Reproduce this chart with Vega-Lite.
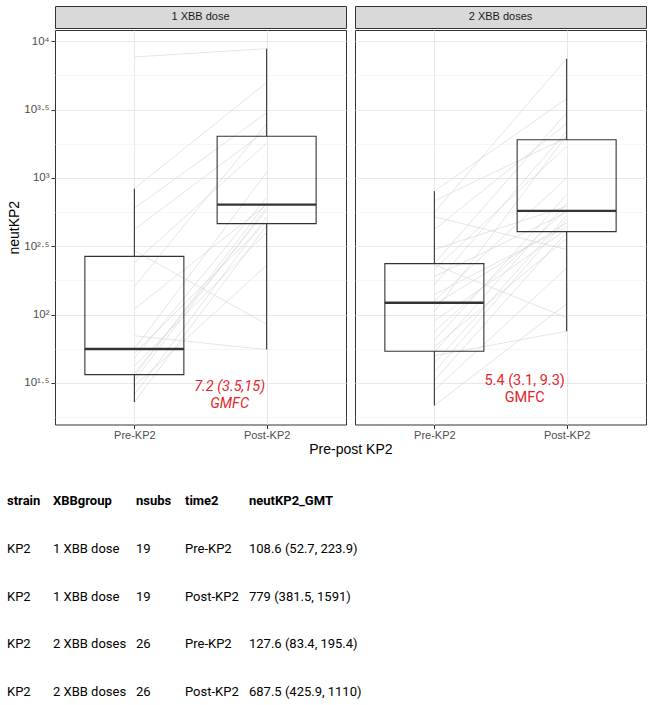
{
  "$schema": "https://vega.github.io/schema/vega-lite/v6.json",
  "padding": {"left": 7, "top": 5, "right": 5, "bottom": 0},
  "background": "white",
  "config": {
    "font": "Liberation Sans",
    "view": {"stroke": "#333333", "strokeWidth": 1}
  },
  "datasets": {
    "subjects": [
      {"id": "A01", "group": "1 XBB dose", "time": "Pre-KP2", "neutKP2": 7680}, {"id": "A01", "group": "1 XBB dose", "time": "Post-KP2", "neutKP2": 8830},
      {"id": "A02", "group": "1 XBB dose", "time": "Pre-KP2", "neutKP2": 835}, {"id": "A02", "group": "1 XBB dose", "time": "Post-KP2", "neutKP2": 5000},
      {"id": "A03", "group": "1 XBB dose", "time": "Pre-KP2", "neutKP2": 600}, {"id": "A03", "group": "1 XBB dose", "time": "Post-KP2", "neutKP2": 3000},
      {"id": "A04", "group": "1 XBB dose", "time": "Pre-KP2", "neutKP2": 294}, {"id": "A04", "group": "1 XBB dose", "time": "Post-KP2", "neutKP2": 85},
      {"id": "A05", "group": "1 XBB dose", "time": "Pre-KP2", "neutKP2": 70}, {"id": "A05", "group": "1 XBB dose", "time": "Post-KP2", "neutKP2": 55.5},
      {"id": "A06", "group": "1 XBB dose", "time": "Pre-KP2", "neutKP2": 420}, {"id": "A06", "group": "1 XBB dose", "time": "Post-KP2", "neutKP2": 2236},
      {"id": "A07", "group": "1 XBB dose", "time": "Pre-KP2", "neutKP2": 240}, {"id": "A07", "group": "1 XBB dose", "time": "Post-KP2", "neutKP2": 1800},
      {"id": "A08", "group": "1 XBB dose", "time": "Pre-KP2", "neutKP2": 160}, {"id": "A08", "group": "1 XBB dose", "time": "Post-KP2", "neutKP2": 2500},
      {"id": "A09", "group": "1 XBB dose", "time": "Pre-KP2", "neutKP2": 110}, {"id": "A09", "group": "1 XBB dose", "time": "Post-KP2", "neutKP2": 638},
      {"id": "A10", "group": "1 XBB dose", "time": "Pre-KP2", "neutKP2": 56}, {"id": "A10", "group": "1 XBB dose", "time": "Post-KP2", "neutKP2": 1100},
      {"id": "A11", "group": "1 XBB dose", "time": "Pre-KP2", "neutKP2": 52}, {"id": "A11", "group": "1 XBB dose", "time": "Post-KP2", "neutKP2": 476},
      {"id": "A12", "group": "1 XBB dose", "time": "Pre-KP2", "neutKP2": 48}, {"id": "A12", "group": "1 XBB dose", "time": "Post-KP2", "neutKP2": 720},
      {"id": "A13", "group": "1 XBB dose", "time": "Pre-KP2", "neutKP2": 42}, {"id": "A13", "group": "1 XBB dose", "time": "Post-KP2", "neutKP2": 400},
      {"id": "A14", "group": "1 XBB dose", "time": "Pre-KP2", "neutKP2": 37.3}, {"id": "A14", "group": "1 XBB dose", "time": "Post-KP2", "neutKP2": 580},
      {"id": "A15", "group": "1 XBB dose", "time": "Pre-KP2", "neutKP2": 35.5}, {"id": "A15", "group": "1 XBB dose", "time": "Post-KP2", "neutKP2": 660},
      {"id": "A16", "group": "1 XBB dose", "time": "Pre-KP2", "neutKP2": 33}, {"id": "A16", "group": "1 XBB dose", "time": "Post-KP2", "neutKP2": 610},
      {"id": "A17", "group": "1 XBB dose", "time": "Pre-KP2", "neutKP2": 30}, {"id": "A17", "group": "1 XBB dose", "time": "Post-KP2", "neutKP2": 230},
      {"id": "A18", "group": "1 XBB dose", "time": "Pre-KP2", "neutKP2": 26}, {"id": "A18", "group": "1 XBB dose", "time": "Post-KP2", "neutKP2": 520},
      {"id": "A19", "group": "1 XBB dose", "time": "Pre-KP2", "neutKP2": 22.9}, {"id": "A19", "group": "1 XBB dose", "time": "Post-KP2", "neutKP2": 450},
      {"id": "B01", "group": "2 XBB doses", "time": "Pre-KP2", "neutKP2": 800}, {"id": "B01", "group": "2 XBB doses", "time": "Post-KP2", "neutKP2": 3800},
      {"id": "B02", "group": "2 XBB doses", "time": "Pre-KP2", "neutKP2": 680}, {"id": "B02", "group": "2 XBB doses", "time": "Post-KP2", "neutKP2": 1973},
      {"id": "B03", "group": "2 XBB doses", "time": "Pre-KP2", "neutKP2": 560}, {"id": "B03", "group": "2 XBB doses", "time": "Post-KP2", "neutKP2": 7460},
      {"id": "B04", "group": "2 XBB doses", "time": "Pre-KP2", "neutKP2": 520}, {"id": "B04", "group": "2 XBB doses", "time": "Post-KP2", "neutKP2": 300},
      {"id": "B05", "group": "2 XBB doses", "time": "Pre-KP2", "neutKP2": 420}, {"id": "B05", "group": "2 XBB doses", "time": "Post-KP2", "neutKP2": 2500},
      {"id": "B06", "group": "2 XBB doses", "time": "Pre-KP2", "neutKP2": 300}, {"id": "B06", "group": "2 XBB doses", "time": "Post-KP2", "neutKP2": 620},
      {"id": "B07", "group": "2 XBB doses", "time": "Pre-KP2", "neutKP2": 237}, {"id": "B07", "group": "2 XBB doses", "time": "Post-KP2", "neutKP2": 3000},
      {"id": "B08", "group": "2 XBB doses", "time": "Pre-KP2", "neutKP2": 232}, {"id": "B08", "group": "2 XBB doses", "time": "Post-KP2", "neutKP2": 95},
      {"id": "B09", "group": "2 XBB doses", "time": "Pre-KP2", "neutKP2": 215}, {"id": "B09", "group": "2 XBB doses", "time": "Post-KP2", "neutKP2": 1700},
      {"id": "B10", "group": "2 XBB doses", "time": "Pre-KP2", "neutKP2": 190}, {"id": "B10", "group": "2 XBB doses", "time": "Post-KP2", "neutKP2": 560},
      {"id": "B11", "group": "2 XBB doses", "time": "Pre-KP2", "neutKP2": 165}, {"id": "B11", "group": "2 XBB doses", "time": "Post-KP2", "neutKP2": 2200},
      {"id": "B12", "group": "2 XBB doses", "time": "Pre-KP2", "neutKP2": 140}, {"id": "B12", "group": "2 XBB doses", "time": "Post-KP2", "neutKP2": 440},
      {"id": "B13", "group": "2 XBB doses", "time": "Pre-KP2", "neutKP2": 126}, {"id": "B13", "group": "2 XBB doses", "time": "Post-KP2", "neutKP2": 1000},
      {"id": "B14", "group": "2 XBB doses", "time": "Pre-KP2", "neutKP2": 118}, {"id": "B14", "group": "2 XBB doses", "time": "Post-KP2", "neutKP2": 470},
      {"id": "B15", "group": "2 XBB doses", "time": "Pre-KP2", "neutKP2": 105}, {"id": "B15", "group": "2 XBB doses", "time": "Post-KP2", "neutKP2": 2050},
      {"id": "B16", "group": "2 XBB doses", "time": "Pre-KP2", "neutKP2": 90}, {"id": "B16", "group": "2 XBB doses", "time": "Post-KP2", "neutKP2": 420},
      {"id": "B17", "group": "2 XBB doses", "time": "Pre-KP2", "neutKP2": 75}, {"id": "B17", "group": "2 XBB doses", "time": "Post-KP2", "neutKP2": 588},
      {"id": "B18", "group": "2 XBB doses", "time": "Pre-KP2", "neutKP2": 65}, {"id": "B18", "group": "2 XBB doses", "time": "Post-KP2", "neutKP2": 750},
      {"id": "B19", "group": "2 XBB doses", "time": "Pre-KP2", "neutKP2": 58}, {"id": "B19", "group": "2 XBB doses", "time": "Post-KP2", "neutKP2": 360},
      {"id": "B20", "group": "2 XBB doses", "time": "Pre-KP2", "neutKP2": 53}, {"id": "B20", "group": "2 XBB doses", "time": "Post-KP2", "neutKP2": 650},
      {"id": "B21", "group": "2 XBB doses", "time": "Pre-KP2", "neutKP2": 50}, {"id": "B21", "group": "2 XBB doses", "time": "Post-KP2", "neutKP2": 75.6},
      {"id": "B22", "group": "2 XBB doses", "time": "Pre-KP2", "neutKP2": 44}, {"id": "B22", "group": "2 XBB doses", "time": "Post-KP2", "neutKP2": 530},
      {"id": "B23", "group": "2 XBB doses", "time": "Pre-KP2", "neutKP2": 38}, {"id": "B23", "group": "2 XBB doses", "time": "Post-KP2", "neutKP2": 500},
      {"id": "B24", "group": "2 XBB doses", "time": "Pre-KP2", "neutKP2": 33}, {"id": "B24", "group": "2 XBB doses", "time": "Post-KP2", "neutKP2": 400},
      {"id": "B25", "group": "2 XBB doses", "time": "Pre-KP2", "neutKP2": 28}, {"id": "B25", "group": "2 XBB doses", "time": "Post-KP2", "neutKP2": 220},
      {"id": "B26", "group": "2 XBB doses", "time": "Pre-KP2", "neutKP2": 21.6}, {"id": "B26", "group": "2 XBB doses", "time": "Post-KP2", "neutKP2": 120}
    ],
    "boxes": [
      {"group": "1 XBB dose", "time": "Pre-KP2", "lower": 22.9, "q1": 36.4, "median": 56, "q3": 267, "upper": 835},
      {"group": "1 XBB dose", "time": "Post-KP2", "lower": 55.5, "q1": 463, "median": 638, "q3": 2018, "upper": 8830},
      {"group": "2 XBB doses", "time": "Pre-KP2", "lower": 21.6, "q1": 54, "median": 122, "q3": 236, "upper": 800},
      {"group": "2 XBB doses", "time": "Post-KP2", "lower": 75.6, "q1": 405, "median": 574, "q3": 1905, "upper": 7460}
    ],
    "annot": [
      {"group": "1 XBB dose", "time": "Post-KP2", "neutKP2": 29.6, "label": "7.2 (3.5,15)\nGMFC"},
      {"group": "2 XBB doses", "time": "Post-KP2", "neutKP2": 32.7, "label": "5.4 (3.1, 9.3)\nGMFC"}
    ],
    "strips": [
      {"group": "1 XBB dose"},
      {"group": "2 XBB doses"}
    ],
    "table": [
      {"strain": "KP2", "XBBgroup": "1 XBB dose", "nsubs": 19, "time2": "Pre-KP2", "neutKP2_GMT": "108.6 (52.7, 223.9)"},
      {"strain": "KP2", "XBBgroup": "1 XBB dose", "nsubs": 19, "time2": "Post-KP2", "neutKP2_GMT": "779 (381.5, 1591)"},
      {"strain": "KP2", "XBBgroup": "2 XBB doses", "nsubs": 26, "time2": "Pre-KP2", "neutKP2_GMT": "127.6 (83.4, 195.4)"},
      {"strain": "KP2", "XBBgroup": "2 XBB doses", "nsubs": 26, "time2": "Post-KP2", "neutKP2_GMT": "687.5 (425.9, 1110)"}
    ]
  },
  "spacing": 38,
  "vconcat": [
    {
      "spacing": 7,
      "title": {"text": "Pre-post KP2", "orient": "bottom", "anchor": "middle", "dx": 24, "offset": 2, "fontSize": 14, "fontWeight": "normal", "color": "#000000", "font": "Liberation Sans"},
      "hconcat": [
        {
          "spacing": 0,
          "vconcat": [
            {
              "width": 291, "height": 22,
              "view": {"fill": "#d9d9d9", "stroke": "#333333"},
              "data": {"name": "strips"},
              "transform": [{"filter": "datum.group === '1 XBB dose'"}],
              "mark": {"type": "text", "fontSize": 11, "color": "#1a1a1a", "baseline": "middle"},
              "encoding": {"text": {"field": "group"}}
            },
            {
              "width": 291, "height": 394.5,
              "resolve": {"axis": {"y": "independent"}},
              "layer": [
                {
                  "data": {"name": "subjects"},
                  "transform": [{"filter": "datum.group === '1 XBB dose'"}],
                  "mark": {"type": "line", "color": "#d4d4d4", "strokeWidth": 0.6},
                  "encoding": {
                    "x": {"field": "time", "type": "nominal", "scale": {"type": "point", "domain": ["Pre-KP2", "Post-KP2"], "padding": 0.6},
                      "axis": {"title": null, "domain": false, "grid": true, "gridColor": "#e8e8e8", "gridWidth": 1, "tickColor": "#333333", "tickSize": 4, "labelColor": "#4d4d4d", "labelFontSize": 11, "labelPadding": 1, "labelAngle": 0}},
                    "y": {"field": "neutKP2", "type": "quantitative", "scale": {"type": "log", "domain": [15.7, 12100], "nice": false},
                      "axis": {"orient": "left", "values": [17.7828, 56.2341, 177.828, 562.341, 1778.28, 5623.41], "labels": false, "ticks": false, "domain": false, "grid": true, "gridColor": "#f2f2f2", "gridWidth": 0.7, "title": null}},
                    "detail": {"field": "id"}
                  }
                },
                {
                  "data": {"name": "boxes"},
                  "transform": [{"filter": "datum.group === '1 XBB dose'"}],
                  "mark": {"type": "rule", "color": "#333333", "strokeWidth": 1.1},
                  "encoding": {
                    "x": {"field": "time", "type": "nominal"},
                    "y": {"field": "lower", "type": "quantitative",
                      "axis": {"orient": "left", "values": [31.6228, 100, 316.228, 1000, 3162.28, 10000],
                        "labelExpr": "datum.value < 50 ? '10¹·⁵' : datum.value < 200 ? '10²' : datum.value < 500 ? '10²·⁵' : datum.value < 2000 ? '10³' : datum.value < 5000 ? '10³·⁵' : '10⁴'",
                        "title": "neutKP2", "titleFontSize": 14, "titleFontWeight": "normal", "titleColor": "#000000", "titlePadding": 2,
                        "labelFont": "Liberation Sans", "labelFontSize": 11.5, "labelColor": "#4d4d4d", "labelPadding": 2, "tickColor": "#333333", "tickSize": 4,
                        "domain": false, "grid": true, "gridColor": "#e8e8e8", "gridWidth": 1}},
                    "y2": {"field": "q1"}
                  }
                },
                {
                  "data": {"name": "boxes"},
                  "transform": [{"filter": "datum.group === '1 XBB dose'"}],
                  "mark": {"type": "rule", "color": "#333333", "strokeWidth": 1.1},
                  "encoding": {
                    "x": {"field": "time", "type": "nominal"},
                    "y": {"field": "q3", "type": "quantitative", "axis": null},
                    "y2": {"field": "upper"}
                  }
                },
                {
                  "data": {"name": "boxes"},
                  "transform": [{"filter": "datum.group === '1 XBB dose'"}],
                  "mark": {"type": "bar", "size": 99, "fill": "transparent", "stroke": "#333333", "strokeWidth": 1.1},
                  "encoding": {
                    "x": {"field": "time", "type": "nominal"},
                    "y": {"field": "q1", "type": "quantitative", "axis": null},
                    "y2": {"field": "q3"}
                  }
                },
                {
                  "data": {"name": "boxes"},
                  "transform": [{"filter": "datum.group === '1 XBB dose'"}],
                  "mark": {"type": "tick", "orient": "horizontal", "size": 99, "thickness": 2.4, "color": "#333333", "opacity": 1},
                  "encoding": {
                    "x": {"field": "time", "type": "nominal"},
                    "y": {"field": "median", "type": "quantitative", "axis": null}
                  }
                },
                {
                  "data": {"name": "annot"},
                  "transform": [{"filter": "datum.group === '1 XBB dose'"}],
                  "mark": {"type": "text", "font": "Roboto", "fontSize": 14.5, "fontStyle": "italic", "color": "#e3262c", "dx": -37, "baseline": "middle", "lineBreak": "\n", "lineHeight": 17.5},
                  "encoding": {
                    "x": {"field": "time", "type": "nominal"},
                    "y": {"field": "neutKP2", "type": "quantitative", "axis": null},
                    "text": {"field": "label"}
                  }
                }
              ]
            }
          ]
        },
        {
          "spacing": 0,
          "vconcat": [
            {
              "width": 291, "height": 22,
              "view": {"fill": "#d9d9d9", "stroke": "#333333"},
              "data": {"name": "strips"},
              "transform": [{"filter": "datum.group === '2 XBB doses'"}],
              "mark": {"type": "text", "fontSize": 11, "color": "#1a1a1a", "baseline": "middle"},
              "encoding": {"text": {"field": "group"}}
            },
            {
              "width": 291, "height": 394.5,
              "resolve": {"axis": {"y": "independent"}},
              "layer": [
                {
                  "data": {"name": "subjects"},
                  "transform": [{"filter": "datum.group === '2 XBB doses'"}],
                  "mark": {"type": "line", "color": "#d4d4d4", "strokeWidth": 0.6},
                  "encoding": {
                    "x": {"field": "time", "type": "nominal", "scale": {"type": "point", "domain": ["Pre-KP2", "Post-KP2"], "padding": 0.6},
                      "axis": {"title": null, "domain": false, "grid": true, "gridColor": "#e8e8e8", "gridWidth": 1, "tickColor": "#333333", "tickSize": 4, "labelColor": "#4d4d4d", "labelFontSize": 11, "labelPadding": 1, "labelAngle": 0}},
                    "y": {"field": "neutKP2", "type": "quantitative", "scale": {"type": "log", "domain": [15.7, 12100], "nice": false},
                      "axis": {"orient": "left", "values": [17.7828, 56.2341, 177.828, 562.341, 1778.28, 5623.41], "labels": false, "ticks": false, "domain": false, "grid": true, "gridColor": "#f2f2f2", "gridWidth": 0.7, "title": null}},
                    "detail": {"field": "id"}
                  }
                },
                {
                  "data": {"name": "boxes"},
                  "transform": [{"filter": "datum.group === '2 XBB doses'"}],
                  "mark": {"type": "rule", "color": "#333333", "strokeWidth": 1.1},
                  "encoding": {
                    "x": {"field": "time", "type": "nominal"},
                    "y": {"field": "lower", "type": "quantitative",
                      "axis": {"orient": "left", "values": [31.6228, 100, 316.228, 1000, 3162.28, 10000], "labels": false, "ticks": false, "domain": false, "title": null, "grid": true, "gridColor": "#e8e8e8", "gridWidth": 1}},
                    "y2": {"field": "q1"}
                  }
                },
                {
                  "data": {"name": "boxes"},
                  "transform": [{"filter": "datum.group === '2 XBB doses'"}],
                  "mark": {"type": "rule", "color": "#333333", "strokeWidth": 1.1},
                  "encoding": {
                    "x": {"field": "time", "type": "nominal"},
                    "y": {"field": "q3", "type": "quantitative", "axis": null},
                    "y2": {"field": "upper"}
                  }
                },
                {
                  "data": {"name": "boxes"},
                  "transform": [{"filter": "datum.group === '2 XBB doses'"}],
                  "mark": {"type": "bar", "size": 99, "fill": "transparent", "stroke": "#333333", "strokeWidth": 1.1},
                  "encoding": {
                    "x": {"field": "time", "type": "nominal"},
                    "y": {"field": "q1", "type": "quantitative", "axis": null},
                    "y2": {"field": "q3"}
                  }
                },
                {
                  "data": {"name": "boxes"},
                  "transform": [{"filter": "datum.group === '2 XBB doses'"}],
                  "mark": {"type": "tick", "orient": "horizontal", "size": 99, "thickness": 2.4, "color": "#333333", "opacity": 1},
                  "encoding": {
                    "x": {"field": "time", "type": "nominal"},
                    "y": {"field": "median", "type": "quantitative", "axis": null}
                  }
                },
                {
                  "data": {"name": "annot"},
                  "transform": [{"filter": "datum.group === '2 XBB doses'"}],
                  "mark": {"type": "text", "font": "Roboto", "fontSize": 14.5, "color": "#e3262c", "dx": -42, "baseline": "middle", "lineBreak": "\n", "lineHeight": 17.5},
                  "encoding": {
                    "x": {"field": "time", "type": "nominal"},
                    "y": {"field": "neutKP2", "type": "quantitative", "axis": null},
                    "text": {"field": "label"}
                  }
                }
              ]
            }
          ]
        }
      ]
    },
    {
      "spacing": 0,
      "bounds": "flush",
      "hconcat": [
        {
          "width": 46, "height": 143, "view": {"stroke": null},
          "title": {"text": "strain", "anchor": "start", "frame": "bounds", "orient": "top", "offset": 35, "font": "Roboto", "fontSize": 13, "fontWeight": "bold", "color": "#000000"},
          "data": {"name": "table"},
          "transform": [{"fold": ["strain"], "as": ["key", "val"]}],
          "mark": {"type": "text", "align": "left", "baseline": "middle", "dx": -48, "font": "Roboto", "fontSize": 13, "color": "#000000"},
          "encoding": {
            "x": {"field": "key", "type": "nominal", "scale": {"type": "point", "padding": 0, "align": 0}, "axis": null},
            "y": {"field": "neutKP2_GMT", "type": "nominal", "sort": null, "scale": {"type": "point", "padding": 0}, "axis": null},
            "text": {"field": "val"}
          }
        },
        {
          "width": 82.3, "height": 143, "view": {"stroke": null},
          "title": {"text": "XBBgroup", "anchor": "start", "frame": "bounds", "orient": "top", "offset": 35, "font": "Roboto", "fontSize": 13, "fontWeight": "bold", "color": "#000000"},
          "data": {"name": "table"},
          "transform": [{"fold": ["XBBgroup"], "as": ["key", "val"]}],
          "mark": {"type": "text", "align": "left", "baseline": "middle", "dx": -48, "font": "Roboto", "fontSize": 13, "color": "#000000"},
          "encoding": {
            "x": {"field": "key", "type": "nominal", "scale": {"type": "point", "padding": 0, "align": 0}, "axis": null},
            "y": {"field": "neutKP2_GMT", "type": "nominal", "sort": null, "scale": {"type": "point", "padding": 0}, "axis": null},
            "text": {"field": "val"}
          }
        },
        {
          "width": 48.3, "height": 143, "view": {"stroke": null},
          "title": {"text": "nsubs", "anchor": "start", "frame": "bounds", "orient": "top", "offset": 35, "font": "Roboto", "fontSize": 13, "fontWeight": "bold", "color": "#000000"},
          "data": {"name": "table"},
          "transform": [{"fold": ["nsubs"], "as": ["key", "val"]}],
          "mark": {"type": "text", "align": "left", "baseline": "middle", "dx": -48, "font": "Roboto", "fontSize": 13, "color": "#000000"},
          "encoding": {
            "x": {"field": "key", "type": "nominal", "scale": {"type": "point", "padding": 0, "align": 0}, "axis": null},
            "y": {"field": "neutKP2_GMT", "type": "nominal", "sort": null, "scale": {"type": "point", "padding": 0}, "axis": null},
            "text": {"field": "val"}
          }
        },
        {
          "width": 63.4, "height": 143, "view": {"stroke": null},
          "title": {"text": "time2", "anchor": "start", "frame": "bounds", "orient": "top", "offset": 35, "font": "Roboto", "fontSize": 13, "fontWeight": "bold", "color": "#000000"},
          "data": {"name": "table"},
          "transform": [{"fold": ["time2"], "as": ["key", "val"]}],
          "mark": {"type": "text", "align": "left", "baseline": "middle", "dx": -48, "font": "Roboto", "fontSize": 13, "color": "#000000"},
          "encoding": {
            "x": {"field": "key", "type": "nominal", "scale": {"type": "point", "padding": 0, "align": 0}, "axis": null},
            "y": {"field": "neutKP2_GMT", "type": "nominal", "sort": null, "scale": {"type": "point", "padding": 0}, "axis": null},
            "text": {"field": "val"}
          }
        },
        {
          "width": 150, "height": 143, "view": {"stroke": null},
          "title": {"text": "neutKP2_GMT", "anchor": "start", "frame": "bounds", "orient": "top", "offset": 35, "font": "Roboto", "fontSize": 13, "fontWeight": "bold", "color": "#000000"},
          "data": {"name": "table"},
          "transform": [{"fold": ["neutKP2_GMT"], "as": ["key", "val"]}],
          "mark": {"type": "text", "align": "left", "baseline": "middle", "dx": -48, "font": "Roboto", "fontSize": 13, "color": "#000000"},
          "encoding": {
            "x": {"field": "key", "type": "nominal", "scale": {"type": "point", "padding": 0, "align": 0}, "axis": null},
            "y": {"field": "neutKP2_GMT", "type": "nominal", "sort": null, "scale": {"type": "point", "padding": 0}, "axis": null},
            "text": {"field": "val"}
          }
        }
      ]
    }
  ]
}
